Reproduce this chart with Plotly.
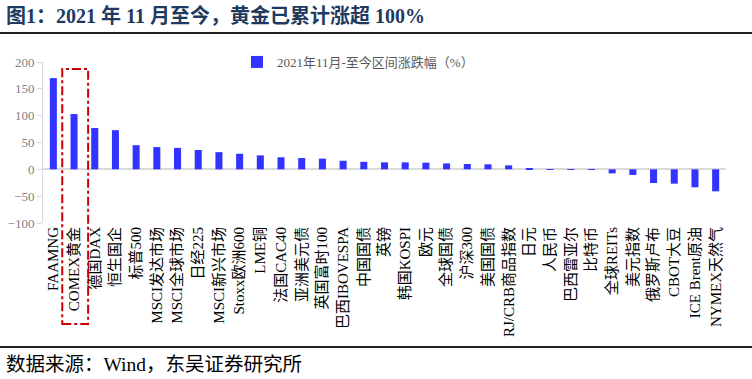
import plotly.graph_objects as go

categories = ["FAAMNG", "COMEX黄金", "德国DAX", "恒生国企", "标普500", "MSCI发达市场",
              "MSCI全球市场", "日经225", "MSCI新兴市场", "Stoxx欧洲600", "LME铜", "法国CAC40",
              "亚洲美元债", "英国富时100", "巴西IBOVESPA", "中国国债", "英镑", "韩国KOSPI",
              "欧元", "全球国债", "沪深300", "美国国债", "RJ/CRB商品指数", "日元", "人民币",
              "巴西雷亚尔", "比特币", "全球REITs", "美元指数", "俄罗斯卢布", "CBOT大豆",
              "ICE Brent原油", "NYMEX天然气"]
values = [170, 103, 77, 73, 45, 41.5, 40, 36, 32, 29, 26, 22.5,
          21, 20, 16, 14, 13, 13, 12.4, 11, 10, 9.3, 7.4, 1, 0.5,
          0.2, 0.2, -7.5, -10.5, -25.5, -26.7, -33.5, -41]
series_name = "2021年11月-至今区间涨跌幅（%）"
y_ticks = [-100, -50, 0, 50, 100, 150, 200]
title_text = "图1：2021 年 11 月至今，黄金已累计涨超 100%"
source_text = "数据来源：Wind，东吴证券研究所"

serif = "Liberation Serif, Times New Roman, Noto Sans CJK SC, serif"

W, H = 752, 379
L, R, T, B = 43, 26, 62, 156
PH = H - T - B
PW = W - L - R


def py(px):
    """pixel y from top -> paper y"""
    return (H - B - px) / PH


def pxx(px):
    return (px - L) / PW


fig = go.Figure()
fig.add_trace(go.Bar(
    x=list(range(len(categories))), y=values, name=series_name,
    marker=dict(color="#3333ff", line=dict(width=0)),
    showlegend=True,
))

fig.update_layout(
    width=W, height=H,
    margin=dict(l=L, r=R, t=T, b=B, autoexpand=False),
    paper_bgcolor="white", plot_bgcolor="white",
    bargap=0.66,
    font=dict(family=serif, size=13, color="#595959"),
    showlegend=True,
    legend=dict(x=pxx(237), xanchor="left", y=py(62), yanchor="middle",
                font=dict(family=serif, size=13, color="#595959"),
                bgcolor="rgba(0,0,0,0)", itemwidth=30, tracegroupgap=0),
    xaxis=dict(
        tickmode="array", tickvals=list(range(len(categories))), ticktext=categories,
        tickangle=-90, showgrid=False, zeroline=False, showline=False, ticks="",
        range=[-0.5, len(categories) - 0.5], automargin=False,
        tickfont=dict(family=serif, size=15, color="#000000"),
    ),
    yaxis=dict(
        range=[-100, 200], tickvals=y_ticks, showgrid=False, automargin=False,
        zeroline=True, zerolinecolor="#d9d9d9", zerolinewidth=1.5,
        showline=True, linecolor="#d9d9d9", linewidth=1,
        ticks="outside", ticklen=5, tickcolor="#d9d9d9",
        tickfont=dict(family=serif, size=13, color="#7f7f7f"),
    ),
    shapes=[
        dict(type="rect", xref="x", yref="paper", x0=0.43, x1=1.68, y0=py(324), y1=py(69),
             line=dict(color="#cc0000", width=2, dash="dashdot"), fillcolor="rgba(0,0,0,0)"),
        dict(type="line", xref="paper", yref="paper", x0=pxx(0), x1=pxx(W),
             y0=py(33), y1=py(33), line=dict(color="#222222", width=2)),
        dict(type="line", xref="paper", yref="paper", x0=pxx(0), x1=pxx(W),
             y0=py(347), y1=py(347), line=dict(color="#222222", width=2)),
    ],
    annotations=[
        dict(text="<b>" + title_text + "</b>", xref="paper", yref="paper",
             x=pxx(4), y=py(15), xanchor="left", yanchor="middle", showarrow=False,
             font=dict(family="Liberation Serif, Noto Sans CJK SC, serif", size=20, color="#1f3a60")),
        dict(text=source_text, xref="paper", yref="paper",
             x=pxx(4), y=py(364), xanchor="left", yanchor="middle", showarrow=False,
             font=dict(family="Liberation Serif, Noto Sans CJK SC, serif", size=19.5, color="#000000")),
    ],
)

fig.write_html("out.html", config={"displayModeBar": False},
               post_script="document.body.style.margin='0';document.body.style.overflow='hidden';")
